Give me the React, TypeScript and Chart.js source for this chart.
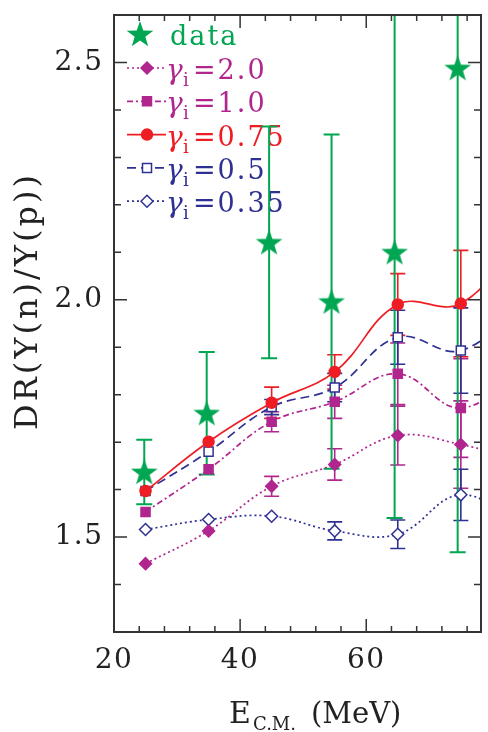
import React, { useEffect, useRef } from 'react';
import { Chart, registerables } from 'chart.js';

Chart.register(...registerables);

// ---------------- data ----------------
const energies = [25, 35, 45, 55, 65, 75, 85];

const dataE = [24.8, 34.7, 44.6, 54.5, 64.5, 74.5];
const dataY = [1.637, 1.761, 2.121, 1.996, 2.1, 2.488];
const dataErr = [0.068, 0.129, 0.244, 0.352, 0.56, 1.02];

const g200 = [1.444, 1.513, 1.607, 1.653, 1.714, 1.695, 1.66];
const g200Err = [0, 0, 0.021, 0.033, 0.062, 0.092];
const g100 = [1.553, 1.643, 1.743, 1.785, 1.844, 1.772, 1.86];
const g100Err = [0, 0, 0.021, 0.035, 0.065, 0.104];
const g075 = [1.597, 1.701, 1.783, 1.848, 1.99, 1.992, 2.14];
const g075Err = [0, 0, 0.033, 0.036, 0.065, 0.112];
const g050 = [1.597, 1.68, 1.774, 1.815, 1.921, 1.893, 2.0];
const g050Err = [0, 0, 0.016, 0.03, 0.057, 0.09];
const g035 = [1.516, 1.537, 1.544, 1.513, 1.506, 1.589, 1.52];
const g035Err = [0, 0, 0, 0.019, 0.03, 0.054];

const xTickValues = [20, 40, 60];
const yTickValues = [1.5, 2.0, 2.5];

const dataLabel = 'data';
const gammaLabels = ['2.0', '1.0', '0.75', '0.5', '0.35'];
const yTitle = 'DR(Y(n)/Y(p))';
const xTitleMain = 'E';
const xTitleSub = 'C.M.';
const xTitleUnit = '(MeV)';

// ---------------- style ----------------
const GREEN = '#00A651';
const MAGENTA = '#B0268E';
const RED = '#EE1D24';
const BLUE = '#2E3192';
const TEXT = '#222222';
const FONT = '"DejaVu Serif", serif';

const W = 496;
const H = 732;
const X_MIN = 20;
const X_MAX = 78.2;
const Y_MIN = 1.3;
const Y_MAX = 2.6;

type Marker = 'circle' | 'square' | 'diamond';
interface SeriesMeta {
  label: string;
  values: number[];
  errs: number[];
  color: string;
  dash: number[];
  marker: Marker;
  filled: boolean;
}

const series: SeriesMeta[] = [
  { label: gammaLabels[0], values: g200, errs: g200Err, color: MAGENTA, dash: [2, 3], marker: 'diamond', filled: true },
  { label: gammaLabels[1], values: g100, errs: g100Err, color: MAGENTA, dash: [6, 3, 2, 3], marker: 'square', filled: true },
  { label: gammaLabels[2], values: g075, errs: g075Err, color: RED, dash: [], marker: 'circle', filled: true },
  { label: gammaLabels[3], values: g050, errs: g050Err, color: BLUE, dash: [9, 5], marker: 'square', filled: false },
  { label: gammaLabels[4], values: g035, errs: g035Err, color: BLUE, dash: [2, 3], marker: 'diamond', filled: false },
];

function starPath(ctx: CanvasRenderingContext2D, cx: number, cy: number, R: number) {
  const r = R * 0.4;
  ctx.beginPath();
  for (let i = 0; i < 10; i++) {
    const rad = i % 2 === 0 ? R : r;
    const a = -Math.PI / 2 + (i * Math.PI) / 5;
    const px = cx + rad * Math.cos(a);
    const py = cy + rad * Math.sin(a);
    if (i === 0) ctx.moveTo(px, py);
    else ctx.lineTo(px, py);
  }
  ctx.closePath();
}

function makeStar(size: number, color: string) {
  const c = document.createElement('canvas');
  c.width = size;
  c.height = size;
  const ctx = c.getContext('2d')!;
  ctx.fillStyle = color;
  starPath(ctx, size / 2, size / 2 + 1, size / 2 - 1);
  ctx.fill();
  return c;
}

function drawMarker(ctx: CanvasRenderingContext2D, m: Marker, filled: boolean, x: number, y: number, color: string) {
  ctx.beginPath();
  if (m === 'circle') ctx.arc(x, y, 5.5, 0, Math.PI * 2);
  else if (m === 'square') ctx.rect(x - 4.5, y - 4.5, 9, 9);
  else {
    ctx.moveTo(x - 6, y);
    ctx.lineTo(x, y - 6);
    ctx.lineTo(x + 6, y);
    ctx.lineTo(x, y + 6);
    ctx.closePath();
  }
  ctx.fillStyle = filled ? color : '#ffffff';
  ctx.fill();
  ctx.strokeStyle = color;
  ctx.lineWidth = 1.5;
  ctx.stroke();
}

export default function App() {
  const ref = useRef<HTMLCanvasElement>(null);

  useEffect(() => {
    const canvas = ref.current;
    if (!canvas) return;
    const star = makeStar(30, GREEN);

    const pointStyleFor = (m: Marker) => (m === 'circle' ? 'circle' : m === 'square' ? 'rect' : 'rectRot');
    const pointRadiusFor = (m: Marker) => (m === 'circle' ? 5.5 : m === 'square' ? 6.4 : 6);

    const modelDatasets = series.map((s) => ({
      label: s.label,
      data: energies.map((x, i) => ({ x, y: s.values[i] })),
      borderColor: s.color,
      backgroundColor: s.color,
      borderWidth: 1.7,
      borderDash: s.dash,
      tension: 0.4,
      fill: false,
      pointStyle: pointStyleFor(s.marker),
      pointRadius: energies.map((e) => (e <= X_MAX ? pointRadiusFor(s.marker) : 0)),
      pointBackgroundColor: s.filled ? s.color : '#ffffff',
      pointBorderColor: s.color,
      pointBorderWidth: 1.5,
    }));

    const textPlugin = {
      id: 'decor',
      beforeDraw(chart: any) {
        chart.ctx.letterSpacing = '1.5px';
      },
      beforeDatasetsDraw(chart: any) {
        const { ctx, chartArea: a, scales } = chart;
        const xs = scales.x;
        const ys = scales.y;
        ctx.letterSpacing = '0px';

        // legend (drawn below the marks)
        ctx.save();
        ctx.drawImage(star, 140 - 15, 34 - 15);
        ctx.fillStyle = GREEN;
        ctx.font = `27px ${FONT}`;
        ctx.letterSpacing = '2px';
        ctx.textBaseline = 'alphabetic';
        ctx.textAlign = 'left';
        ctx.fillText(dataLabel, 170, 45);
        series.forEach((s, i) => {
          const base = 79 + i * 33.3;
          const my = base - 11;
          ctx.strokeStyle = s.color;
          ctx.lineWidth = 1.7;
          ctx.setLineDash(s.dash);
          ctx.beginPath();
          ctx.moveTo(127, my);
          ctx.lineTo(166, my);
          ctx.stroke();
          ctx.setLineDash([]);
          drawMarker(ctx, s.marker, s.filled, 147, my, s.color);
          ctx.fillStyle = s.color;
          ctx.letterSpacing = '0px';
          ctx.font = `italic 28px ${FONT}`;
          ctx.fillText('γ', 166, base);
          ctx.font = `18px ${FONT}`;
          ctx.fillText('i', 183, base + 7);
          ctx.font = `27px ${FONT}`;
          ctx.letterSpacing = '2px';
          ctx.fillText('=' + s.label, 193, base);
        });
        ctx.restore();

        // error bars
        ctx.save();
        ctx.beginPath();
        ctx.rect(a.left, a.top, a.right - a.left, a.bottom - a.top);
        ctx.clip();
        const drawBars = (xv: number[], yv: number[], ev: number[], color: string, lw: number, cap: number) => {
          ctx.strokeStyle = color;
          ctx.lineWidth = lw;
          ctx.setLineDash([]);
          for (let i = 0; i < ev.length; i++) {
            if (!ev[i]) continue;
            const px = xs.getPixelForValue(xv[i]);
            const top = ys.getPixelForValue(yv[i] + ev[i]);
            const bot = ys.getPixelForValue(yv[i] - ev[i]);
            ctx.beginPath();
            ctx.moveTo(px, top);
            ctx.lineTo(px, bot);
            ctx.moveTo(px - cap, top);
            ctx.lineTo(px + cap, top);
            ctx.moveTo(px - cap, bot);
            ctx.lineTo(px + cap, bot);
            ctx.stroke();
          }
        };
        series.forEach((s) => drawBars(energies, s.values, s.errs, s.color, 1.6, 7.5));
        drawBars(dataE, dataY, dataErr, GREEN, 2, 8);
        ctx.restore();
      },
      afterDraw(chart: any) {
        const { ctx, chartArea: a, scales } = chart;
        const xs = scales.x;
        const ys = scales.y;
        ctx.save();
        ctx.letterSpacing = '0px';
        ctx.setLineDash([]);
        ctx.strokeStyle = '#333333';
        ctx.lineWidth = 2;
        ctx.strokeRect(a.left, a.top, a.right - a.left, a.bottom - a.top);
        ctx.lineWidth = 1.5;
        ctx.beginPath();
        for (let k = 0; X_MIN + 4 * k <= X_MAX; k++) {
          const v = X_MIN + 4 * k;
          const major = v % 20 === 0;
          const len = major ? 13 : 6;
          const px = xs.getPixelForValue(v);
          ctx.moveTo(px, a.bottom);
          ctx.lineTo(px, a.bottom - len);
          ctx.moveTo(px, a.top);
          ctx.lineTo(px, a.top + len);
        }
        for (let k = 13; k <= 26; k++) {
          const major = k % 5 === 0;
          const len = major ? 13 : 7;
          const py = ys.getPixelForValue(k / 10);
          ctx.moveTo(a.left, py);
          ctx.lineTo(a.left + len, py);
          ctx.moveTo(a.right, py);
          ctx.lineTo(a.right - len, py);
        }
        ctx.stroke();

        // axis titles
        ctx.fillStyle = TEXT;
        ctx.textBaseline = 'alphabetic';
        ctx.save();
        ctx.translate(37, 301);
        ctx.rotate(-Math.PI / 2);
        ctx.textAlign = 'center';
        ctx.font = `32px ${FONT}`;
        ctx.letterSpacing = '3px';
        ctx.fillText(yTitle, 0, 0);
        ctx.restore();

        ctx.textAlign = 'left';
        ctx.letterSpacing = '0px';
        ctx.font = `30px ${FONT}`;
        ctx.fillText(xTitleMain, 229, 723);
        ctx.font = `18px ${FONT}`;
        ctx.fillText(xTitleSub, 253, 730);
        ctx.font = `29px ${FONT}`;
        ctx.fillText(xTitleUnit, 311, 723);
        ctx.restore();
      },
    };

    const chart = new Chart(canvas, {
      type: 'line',
      data: {
        datasets: [
          {
            label: dataLabel,
            data: dataE.map((x, i) => ({ x, y: dataY[i] })),
            showLine: false,
            pointStyle: star as any,
            pointRadius: 14,
            borderColor: GREEN,
            backgroundColor: GREEN,
          } as any,
          ...(modelDatasets as any[]),
        ],
      },
      options: {
        animation: false,
        responsive: false,
        devicePixelRatio: 1,
        events: [],
        layout: { padding: { left: 0, right: W - 491, top: 10, bottom: 0 } },
        plugins: {
          legend: { display: false },
          tooltip: { enabled: false },
        },
        scales: {
          x: {
            type: 'linear',
            min: X_MIN,
            max: X_MAX,
            border: { display: false },
            grid: { display: false, drawTicks: false },
            ticks: {
              color: TEXT,
              font: { family: FONT, size: 28 },
              padding: 12,
              maxRotation: 0,
              autoSkip: false,
              callback: (v: any) => String(v),
            },
            afterBuildTicks: (s: any) => {
              s.ticks = xTickValues.map((v) => ({ value: v }));
            },
            afterFit: (s: any) => {
              s.height = H - 632;
              s.paddingLeft = 0;
              s.paddingRight = 0;
            },
          },
          y: {
            type: 'linear',
            min: Y_MIN,
            max: Y_MAX,
            border: { display: false },
            grid: { display: false, drawTicks: false },
            ticks: {
              color: TEXT,
              font: { family: FONT, size: 28 },
              padding: 10.5,
              autoSkip: false,
              callback: (v: any) => Number(v).toFixed(1),
            },
            afterBuildTicks: (s: any) => {
              s.ticks = yTickValues.map((v) => ({ value: v }));
            },
            afterFit: (s: any) => {
              s.width = 114;
              s.paddingTop = 0;
              s.paddingBottom = 0;
            },
          },
        },
      } as any,
      plugins: [textPlugin],
    });
    return () => chart.destroy();
  }, []);

  return (
    <div style={{ position: 'fixed', left: 0, top: 0, width: W, height: H, background: '#ffffff', overflow: 'hidden' }}>
      <canvas ref={ref} width={W} height={H} style={{ display: 'block', width: W, height: H }} />
    </div>
  );
}
